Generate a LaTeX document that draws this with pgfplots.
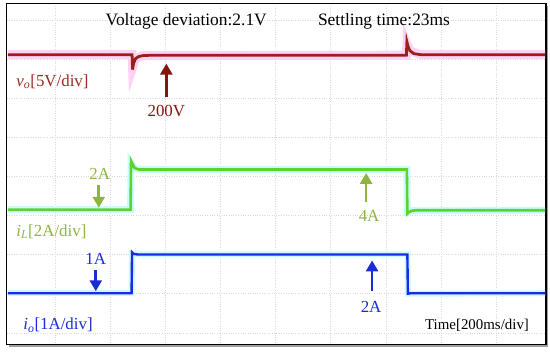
\documentclass[border=0pt]{standalone}
\usepackage{fontspec}
\setmainfont{Liberation Serif}
\usepackage{pgfplots}
\pgfplotsset{compat=1.18}
\usetikzlibrary{arrows.meta,calc}
\definecolor{tred}{RGB}{150,35,25}
\definecolor{ared}{RGB}{135,20,15}
\definecolor{lred}{RGB}{150,45,35}
\definecolor{tgreen}{RGB}{95,210,45}
\definecolor{lgreen}{RGB}{140,182,65}
\definecolor{tblue}{RGB}{30,40,230}
\definecolor{lblue}{RGB}{25,45,215}
\definecolor{halopink}{RGB}{255,210,245}
\definecolor{halocyan}{RGB}{200,252,250}
\begin{document}
\begin{tikzpicture}
\begin{axis}[
  scale only axis, width=542.5pt, height=343pt,
  xmin=3.5, xmax=546, ymin=3.5, ymax=346.5, y dir=reverse,
  xtick={52,107.5,163,218.5,274,329.5,385,440.5,496},
  ytick={20,59.3,98.7,138,177.4,216.8,256,295.5,335},
  xticklabels={}, yticklabels={}, major tick length=0pt,
  grid=major, grid style={dotted, gray!30, line width=0.7pt},
  axis line style={black, line width=1.2pt},
  clip=false,
]
% halos
\addplot[halopink, line width=9pt, no marks] coordinates {(4.5,55) (129.5,55) (130,68) (133,59) (140,56) (405.5,55.5) (406,44) (409,51) (420,55) (545,55)};
\addplot[halocyan, line width=7pt, no marks] coordinates {(4.5,211) (128,211) (128.5,164) (132,169) (136,170.5) (406,170.5) (406.5,213) (411,212) (545,211.5)};
\addplot[halocyan, line width=6pt, no marks] coordinates {(4.5,295) (129,295) (129.5,255) (135,256) (406.5,256) (407,295.5) (545,295)};
% traces
\addplot[tred, line width=2.8pt, no marks] coordinates {(4.5,55) (129.5,55) (130,70) (131,64) (133,59) (136,57) (140,56) (150,55.5) (405.5,55.5) (406,42) (407,46) (409,51) (413,54) (420,55) (545,55)};
\addplot[tgreen, line width=2.6pt, no marks] coordinates {(4.5,211) (128,211) (128.5,162) (130,165) (132,169) (136,170.5) (406,170.5) (406.5,215) (408,213.5) (411,212) (416,211.5) (545,211.5)};
\addplot[tblue, line width=2.4pt, no marks] coordinates {(4.5,295) (129,295) (129.5,254) (131,255.5) (135,256) (406.5,256) (407,295.5) (410,295) (545,295)};
% arrows
\draw[ared, line width=2.6pt, -{Triangle[length=11pt,width=12pt]}] (axis cs:164,98) -- (axis cs:164,64);
\draw[lgreen, line width=2.6pt, -{Triangle[length=11pt,width=12pt]}] (axis cs:96,186) -- (axis cs:96,209);
\draw[lgreen, line width=2.6pt, -{Triangle[length=11pt,width=12pt]}] (axis cs:365,203) -- (axis cs:365,174);
\draw[lblue, line width=2.6pt, -{Triangle[length=11pt,width=12pt]}] (axis cs:93,272) -- (axis cs:93,293);
\draw[lblue, line width=2.6pt, -{Triangle[length=11pt,width=12pt]}] (axis cs:371,293) -- (axis cs:371,262);
% texts
\node[font=\fontsize{17.5}{20}\selectfont, black] at (axis cs:184,21) {Voltage deviation:2.1V};
\node[font=\fontsize{17.5}{20}\selectfont, black] at (axis cs:383,21) {Settling time:23ms};
\node[font=\fontsize{17}{20}\selectfont, lred, anchor=west, inner sep=0pt] at (axis cs:13,82) {\textit{v}\textsubscript{\textit{o}}[5V/div]};
\node[font=\fontsize{17}{20}\selectfont, ared] at (axis cs:164,112) {200V};
\node[font=\fontsize{17}{20}\selectfont, lgreen] at (axis cs:97,175) {2A};
\node[font=\fontsize{17}{20}\selectfont, lgreen] at (axis cs:368,217) {4A};
\node[font=\fontsize{17}{20}\selectfont, lgreen, anchor=west, inner sep=0pt] at (axis cs:13,233) {\textit{i}\textsubscript{\textit{L}}[2A/div]};
\node[font=\fontsize{17}{20}\selectfont, lblue] at (axis cs:93,260) {1A};
\node[font=\fontsize{17}{20}\selectfont, lblue] at (axis cs:370,309) {2A};
\node[font=\fontsize{17}{20}\selectfont, lblue, anchor=west, inner sep=0pt] at (axis cs:20,327) {\textit{i}\textsubscript{\textit{o}}[1A/div]};
\node[font=\fontsize{15}{18}\selectfont, black, anchor=east, inner sep=0pt] at (axis cs:529,327) {Time[200ms/div]};
% shadow
\draw[gray!75, line width=2pt] (axis cs:6,348.2) -- (axis cs:547.5,348.2);
\draw[gray!75, line width=1.5pt] (axis cs:547.5,6) -- (axis cs:547.5,348.2);
\end{axis}
\path ($(current axis.south west)+(-3.5pt,-4.5pt)$);
\path ($(current axis.north east)+(4pt,3.5pt)$);
\end{tikzpicture}
\end{document}
